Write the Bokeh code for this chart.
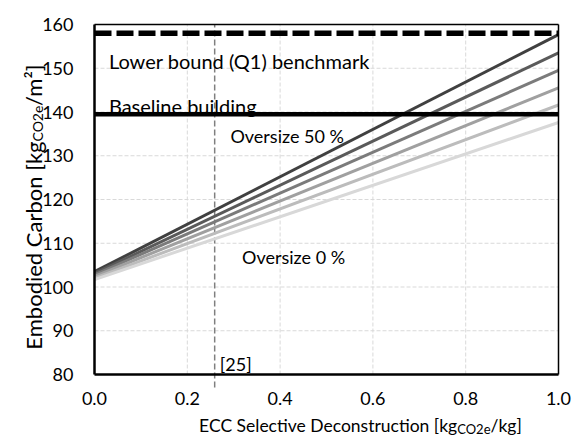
from math import pi
from bokeh.plotting import figure
from bokeh.models import Label, Range1d, FixedTicker, PrintfTickFormatter, LinearAxis
from bokeh.embed import file_html
from bokeh.resources import INLINE

# ---- data ----
x_points = [0.0, 1.0]
oversize_labels = ["50 %", "40 %", "30 %", "20 %", "10 %", "0 %"]
start_values = [103.5, 103.1, 102.8, 102.4, 102.0, 101.7]
end_values = [157.7, 153.5, 149.5, 145.5, 141.6, 137.6]
line_colors = ["#404040", "#5a5a5a", "#7b7b7b", "#a0a0a0", "#bcbcbc", "#d8d8d8"]
benchmark_value = 158.0
baseline_value = 139.5
reference_x = 0.259
x_ticks = [0.0, 0.2, 0.4, 0.6, 0.8, 1.0]
y_ticks = [80, 90, 100, 110, 120, 130, 140, 150, 160]
x_min, x_max = 0.0, 1.0
y_min, y_max = 80, 160

FONT = "Lato"
W, H = 572, 444
# plotting box placement in pixels (layout only)
BL, BR, BT, BB = 94, 558, 24, 374
sx = (BR - BL) / (x_max - x_min)
sy = (BB - BT) / (y_max - y_min)
xr = Range1d(x_min - BL / sx, x_max + (W - BR) / sx)
yr = Range1d(y_min - (H - BB) / sy, y_max + BT / sy)

p = figure(width=W, height=H, x_range=xr, y_range=yr,
           output_backend="svg", toolbar_location=None,
           x_axis_location=None, y_axis_location=None, min_border=0)
p.background_fill_color = "white"
p.border_fill_color = "white"
p.outline_line_color = None
p.grid.visible = False

# grid lines restricted to the box
gx = [t for t in x_ticks]
p.segment(x0=gx, x1=gx, y0=[y_min] * len(gx), y1=[y_max] * len(gx),
          line_color="#d9d9d9", line_width=1, line_dash="4 2")
gy = [t for t in y_ticks]
p.segment(x0=[x_min] * len(gy), x1=[x_max] * len(gy), y0=gy, y1=gy,
          line_color="#d9d9d9", line_width=1, line_dash="4 2")

# reference vertical dashed line (extends a little below the box)
p.segment(x0=[reference_x], x1=[reference_x], y0=[y_min - 13 / sy], y1=[y_max],
          line_color="#7f7f7f", line_width=1.5, line_dash="6 3")

for s, e, c in zip(start_values, end_values, line_colors):
    p.line(x_points, [s, e], line_color=c, line_width=3)

p.segment(x0=[x_min], x1=[x_max], y0=[baseline_value], y1=[baseline_value],
          line_color="black", line_width=4.5)
p.segment(x0=[x_min], x1=[x_max], y0=[benchmark_value], y1=[benchmark_value],
          line_color="black", line_width=5.5, line_dash="17 5")

# top and right edges of the box
p.segment(x0=[x_min, x_max], x1=[x_max, x_max], y0=[y_max, y_min], y1=[y_max, y_max],
          line_color="black", line_width=1.5)

xaxis = LinearAxis(fixed_location=y_min, bounds=(x_min, x_max))
yaxis = LinearAxis(fixed_location=x_min, bounds=(y_min, y_max))
p.add_layout(xaxis, "below")
p.add_layout(yaxis, "left")
for ax in (xaxis, yaxis):
    ax.axis_line_color = "black"
    ax.axis_line_width = 2.5
    ax.major_tick_line_color = None
    ax.minor_tick_line_color = None
    ax.major_tick_out = 0
    ax.major_tick_in = 0
    ax.major_label_text_font = FONT
    ax.major_label_text_font_size = "18px"
    ax.major_label_text_color = "black"
xaxis.ticker = FixedTicker(ticks=x_ticks)
yaxis.ticker = FixedTicker(ticks=y_ticks)
xaxis.formatter = PrintfTickFormatter(format="%.1f")
xaxis.major_label_standoff = 17
yaxis.major_label_standoff = 21

def lab(x, y, t, size="18px", align="left", angle=0.0):
    p.add_layout(Label(x=x, y=y, text=t, text_font=FONT, text_font_size=size,
                       text_color="black", text_align=align,
                       text_baseline="alphabetic", angle=angle))

def px(ix):  # image x pixel -> data x (label placement)
    return x_min + (ix - BL) / sx

def py(iy):  # image y pixel -> data y (label placement)
    return y_min + (BB - iy) / sy

lab(0.031, 151.7, "Lower bound (Q1) benchmark", size="20px")
lab(0.031, 141.3, "Baseline building", size="20px")
lab(0.293, 134.5, "Oversize " + oversize_labels[0])
lab(0.318, 106.8, "Oversize " + oversize_labels[-1])
lab(0.270, 82.3, "[25]")

# x axis label with subscript
lab(px(456.7), py(425), "ECC Selective Deconstruction [kg", size="17.5px", align="right")
lab(px(456.7), py(428.3), "CO2e", size="13px")
lab(px(490), py(425), "/kg]", size="17.5px")

# y axis label with subscript (rotated)
lab(px(33), py(141), "Embodied Carbon [kg", size="22px", align="right", angle=pi / 2)
lab(px(36.5), py(141), "CO2e", size="14px", angle=pi / 2)
lab(px(33), py(105.5), "/m\u00b2]", size="22px", angle=pi / 2)

open("out.html", "w").write(file_html(p, INLINE))
